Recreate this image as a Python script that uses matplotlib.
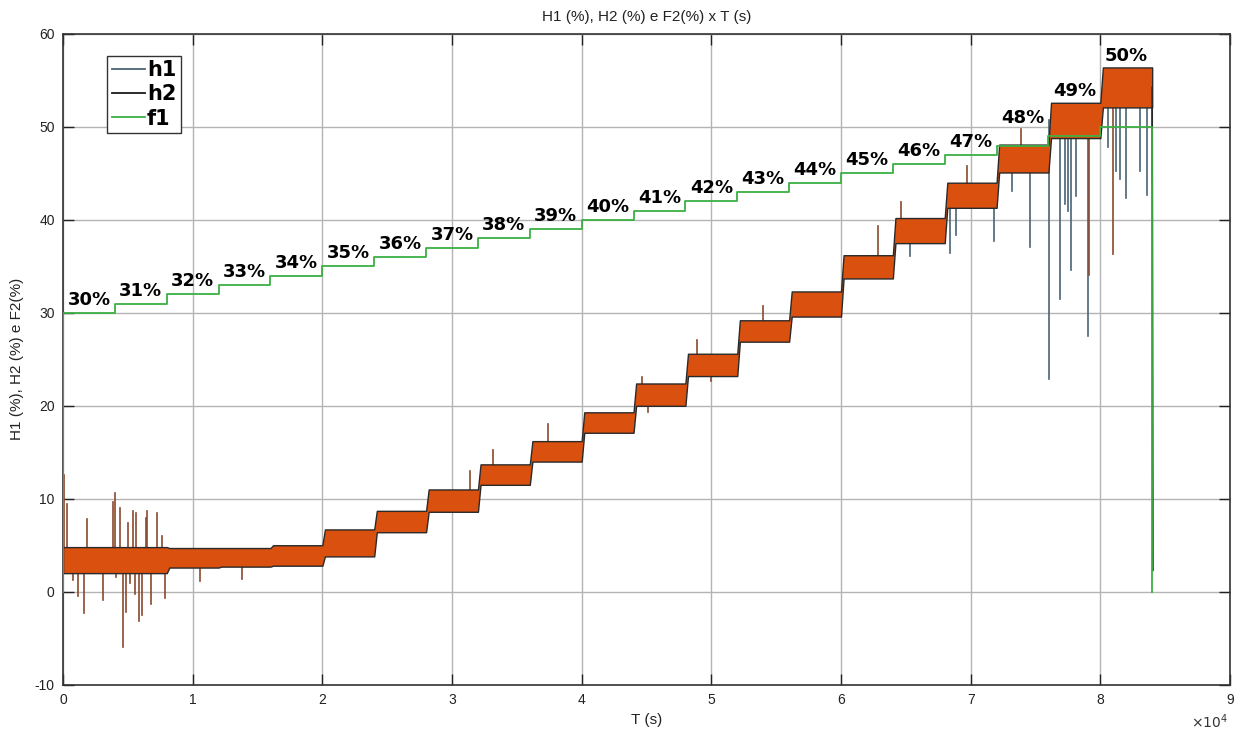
import numpy as np
import matplotlib
matplotlib.use('Agg')
from matplotlib import pyplot as plt
from matplotlib.lines import Line2D

plt.rcParams['axes.unicode_minus'] = False

# f1 set-point steps (%), one level every 4000 s
f1_starts = [0, 4000, 8000, 12000, 16000, 20000, 24000, 28000, 32000, 36000, 40000,
             44000, 48000, 52000, 56000, 60000, 64000, 68000, 72000, 76000, 80000]
f1_levels = [30, 31, 32, 33, 34, 35, 36, 37, 38, 39, 40,
             41, 42, 43, 44, 45, 46, 47, 48, 49, 50]
t_end = 84000

# h1/h2 noise band per step (lower / upper edge, %)
h_lo = [2.0, 2.0, 2.6, 2.7, 2.8, 3.8, 6.4, 8.6, 11.5, 14.0, 17.1,
        20.0, 23.2, 26.9, 29.6, 33.7, 37.5, 41.3, 45.1, 48.8, 52.1]
h_hi = [4.8, 4.8, 4.7, 4.7, 5.0, 6.7, 8.7, 11.0, 13.7, 16.2, 19.3,
        22.4, 25.6, 29.2, 32.3, 36.2, 40.2, 44.0, 48.1, 52.6, 56.4]
h_after = 2.3   # value right after shutdown

# isolated spikes (time s, value %)
h1_spike_t = [68390, 68850, 71800, 74610, 73200, 76020, 76920, 77300, 77520, 77720,
              78130, 79050, 80600, 81200, 81550, 82010, 83100, 83640, 84000, 65360]
h1_spike_v = [36.4, 38.4, 37.7, 37.1, 43.1, 22.9, 31.5, 41.7, 41.0, 34.6,
              42.6, 27.5, 47.8, 45.3, 44.4, 42.4, 45.3, 42.7, 44.0, 36.1]
h2_spike_t = [77, 330, 1870, 3830, 4010, 4390, 5030, 5420, 5630, 6400, 6500, 7220, 7610,
              750, 1180, 1620, 3110, 4090, 4600, 4860, 5170, 5550, 5880, 6070, 6760, 7860,
              10560, 13780, 31380, 33130, 37420, 44690, 45130, 48860, 50010, 54000,
              62860, 64660, 69720, 73910, 79100, 80980]
h2_spike_v = [12.6, 9.4, 7.8, 9.7, 10.6, 9.0, 7.4, 8.7, 8.5, 7.9, 8.7, 8.5, 6.0,
              1.3, -0.5, -2.3, -0.9, 1.6, -5.9, -2.2, 0.9, -0.2, -3.2, -2.5, -1.3, -0.7,
              1.1, 1.4, 13.0, 15.2, 18.0, 23.1, 19.3, 27.1, 22.7, 30.7,
              39.3, 41.9, 45.8, 49.8, 34.1, 36.3]

c_h1 = '#4a6476'
c_h2 = '#d9500f'
c_h2_dark = '#8a4a2c'
c_f1 = '#3cb043'

fig = plt.figure(figsize=(12.41, 7.37), dpi=100)
ax = fig.add_axes([0.0508, 0.0710, 0.9403, 0.8829])

# band of h1/h2 (each step: quick rise then flat)
rise = 200
bx, blo, bhi = [], [], []
for k in range(len(f1_starts)):
    t0 = f1_starts[k]
    t1 = f1_starts[k + 1] if k + 1 < len(f1_starts) else t_end
    bx += [t0 + (rise if k > 0 else 0), t1]
    blo += [h_lo[k], h_lo[k]]
    bhi += [h_hi[k], h_hi[k]]
ax.fill_between(bx, blo, bhi, facecolor=c_h2, edgecolor='#2a2a2a', linewidth=1.0, zorder=3)

# drop at shutdown
mid_last = (h_lo[-1] + h_hi[-1]) / 2
ax.plot([t_end, t_end + 60], [mid_last, h_after], color='#2a2a2a', lw=1.2, zorder=3)


# spikes
def band_mid(t):
    for k in range(len(f1_starts) - 1, -1, -1):
        if t >= f1_starts[k]:
            return (h_lo[k] + h_hi[k]) / 2
    return (h_lo[0] + h_hi[0]) / 2


for t, v in zip(h1_spike_t, h1_spike_v):
    ax.plot([t, t], [band_mid(t), v], color=c_h1, lw=1.2, zorder=2.5)
for t, v in zip(h2_spike_t, h2_spike_v):
    ax.plot([t, t], [band_mid(t), v], color=c_h2_dark, lw=1.2, zorder=2.6)

# f1 step signal
fx = [0]
fy = [0]
for k in range(len(f1_starts)):
    t1 = f1_starts[k + 1] if k + 1 < len(f1_starts) else t_end
    fx += [f1_starts[k], t1]
    fy += [f1_levels[k], f1_levels[k]]
fx += [t_end]
fy += [0]
ax.plot(fx, fy, color=c_f1, lw=1.3, zorder=4)

# percentage labels above the steps
lift = {48: 3.0, 49: 4.9, 50: 7.6}
for k in range(len(f1_starts)):
    t1 = f1_starts[k + 1] if k + 1 < len(f1_starts) else t_end
    lev = f1_levels[k]
    ax.text((f1_starts[k] + t1) / 2, lev + lift.get(lev, 1.4), '%d%%' % lev,
            ha='center', va='center', fontsize=13, fontweight='bold',
            family='DejaVu Sans', color='black', zorder=6)

ax.set_xlim(0, 90000)
ax.set_ylim(-10, 60)
ax.set_xticks(np.arange(0, 90001, 10000))
ax.set_xticklabels([str(i) for i in range(10)])
ax.set_yticks(np.arange(-10, 61, 10))
ax.grid(True, color='#b4b4b4', lw=1.0, zorder=0)
ax.set_axisbelow(True)
ax.tick_params(direction='in', length=8, width=1, top=True, right=True,
               labelsize=10, colors='#222222', pad=6)
for lab in ax.get_xticklabels() + ax.get_yticklabels():
    lab.set_family('Liberation Sans')
for s in ax.spines.values():
    s.set_color('#333333')
    s.set_linewidth(1.2)

ax.set_title('H1 (%), H2 (%) e F2(%) x T (s)', fontsize=11, family='Liberation Sans',
             color='#222222', pad=9)
ax.set_xlabel('T (s)', fontsize=11, family='Liberation Sans', color='#222222', labelpad=4)
ax.set_ylabel('H1 (%), H2 (%) e F2(%)', fontsize=11, family='Liberation Sans',
              color='#222222', labelpad=8)
fig.text(1228 / 1241, 1 - 722 / 737, r'$\times10^{4}$', ha='right', va='center',
         fontsize=10, color='#333333')

handles = [Line2D([], [], color=c_h1, lw=1.3),
           Line2D([], [], color='#1a1a1a', lw=1.3),
           Line2D([], [], color=c_f1, lw=1.3)]
leg = ax.legend(handles, ['h1', 'h2', 'f1'], loc='upper left',
                bbox_to_anchor=(0.038, 0.966), fancybox=False, framealpha=1,
                edgecolor='#333333', borderpad=0.2, labelspacing=0.2,
                handlelength=1.6, handletextpad=0.1, borderaxespad=0,
                prop={'family': 'DejaVu Sans', 'weight': 'bold', 'size': 15})
leg.get_frame().set_linewidth(1.0)
leg.set_zorder(7)

plt.savefig('out.png', dpi=100)
plt.close()
